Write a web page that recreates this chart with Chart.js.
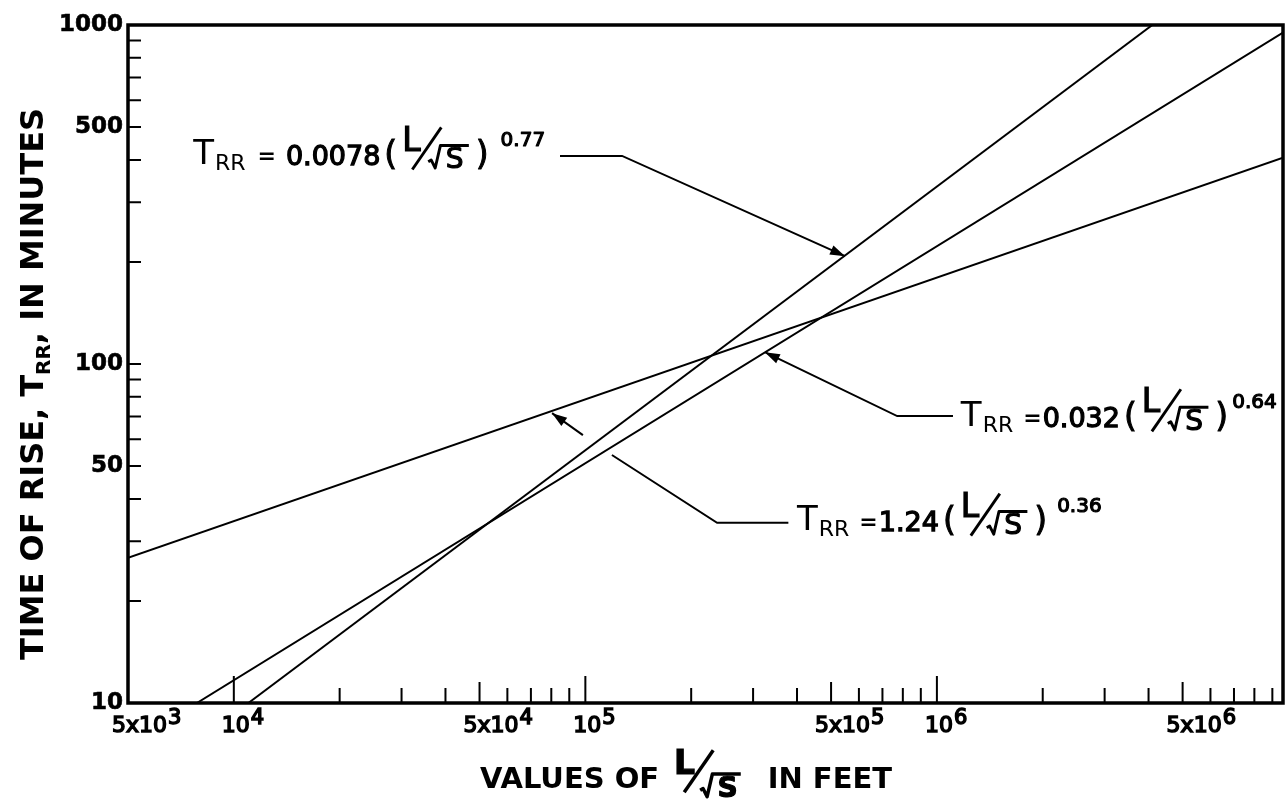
<!DOCTYPE html>
<html>
<head>
<meta charset="utf-8">
<script src="https://cdn.jsdelivr.net/npm/chart.js@4.4.1/dist/chart.umd.min.js"></script>
<style>
  html, body { margin: 0; padding: 0; background: #fff; }
  canvas { display: block; }
</style>
</head>
<body>
<canvas id="rise" width="1285" height="801"></canvas>
<script>
// rise time vs L/sqrt(S), three power laws on log-log paper
const coefficients = [0.0078, 0.032, 1.24];
const exponents = [0.77, 0.64, 0.36];

// straight on log-log, so each line only needs its two end points
const lineStartX = [1.1e4, 7.85e3, 5e3];
const lineStartY = [10, 10, 26.8];
const lineEndX = [4.1e6, 9.65e6, 9.65e6];
const lineEndY = [1000, 950, 406];

const yTickLabels = [10, 50, 100, 500, 1000];
const xLabelMantissa = [5, 1, 5, 1, 5, 1, 5];
const xLabelPower = [3, 4, 4, 5, 5, 6, 6];

// leader lines in data units, first point is the arrow tip
const leaderPaths = [
  [[[5.48e5, 208], [1.272e5, 411], [8.47e4, 411]]],
  [[[3.24e5, 108.4], [7.71e5, 70.2], [1.111e6, 70.2]]],
  // this one is broken where it crosses the two steep lines
  [[[8.04e4, 71.6], [9.84e4, 61.7]], [[1.19e5, 53.9], [2.37e5, 34.0], [3.78e5, 34.0]]]
];
// where each equation starts (x) and sits (baseline y)
const labelX = [7.66e3, 1.17e6, 4.0e5];
const labelY = [386, 65.2, 32.1];
// spacing: before '=', before the coefficient, before the power
const eqGaps = [[12, 10, 12], [10, 1, 4], [10, 1, 10]];

const FONT = '"DejaVu Sans", sans-serif';
const f = (size, bold) => (bold ? 'bold ' : '') + size + 'px ' + FONT;

function ink(ctx, t, x, y, w) {
  ctx.fillText(t, x, y);
  if (w) {
    ctx.lineWidth = w;
    ctx.strokeText(t, x, y);
  }
}

// L over root S, drawn by hand
function drawFrac(ctx, x, y, s, bold, drop, dry) {
  const w = 2.5 * s;
  if (dry) return w;
  const d = drop * s;
  ctx.font = f(Math.round(1.15 * s), bold);
  ink(ctx, 'L', x + 0.1 * s, y - 0.5 * s, 1.2);
  ctx.lineWidth = bold ? 0.12 * s : 0.1 * s;
  ctx.lineJoin = 'round';
  ctx.beginPath();
  ctx.moveTo(x + 0.45 * s, y + 0.15 * s);
  ctx.lineTo(x + 1.45 * s, y - 1.3 * s);
  ctx.stroke();
  ctx.beginPath();
  ctx.moveTo(x + 1.0 * s, y - 0.22 * s + d);
  ctx.lineTo(x + 1.1 * s, y - 0.28 * s + d);
  ctx.lineTo(x + 1.24 * s, y + d);
  ctx.lineTo(x + 1.42 * s, y - 0.78 * s + d);
  ctx.lineTo(x + 2.4 * s, y - 0.78 * s + d);
  ctx.stroke();
  ctx.font = f(Math.round(0.95 * s), bold);
  ink(ctx, 'S', x + 1.6 * s, y + d, 1.2);
  return w;
}

function drawRuns(ctx, x, y, runs, dry) {
  let cx = x;
  for (const r of runs) {
    cx += r.gap || 0;
    if (r.frac) {
      cx += drawFrac(ctx, cx, y, r.frac, r.bold, r.drop || 0, dry);
      continue;
    }
    ctx.font = r.font;
    if (!dry) ink(ctx, r.t, cx, y + (r.dy || 0), r.stroke || 0);
    cx += ctx.measureText(r.t).width;
  }
  return cx - x;
}

// squeeze a run of text sideways so it spans a given width
function fitRuns(ctx, x, y, runs, width) {
  const natural = drawRuns(ctx, 0, 0, runs, true);
  ctx.save();
  ctx.translate(x, y);
  ctx.scale(width / natural, 1);
  drawRuns(ctx, 0, 0, runs, false);
  ctx.restore();
}

function equationRuns(i) {
  return [
    { t: 'T', font: f(34), dy: -1 },
    { t: 'RR', font: f(22), dy: 5, gap: 1 },
    { t: '=', font: f(22, true), gap: eqGaps[i][0], dy: -2 },
    { t: String(coefficients[i]), font: f(27), gap: eqGaps[i][1], stroke: 1.3 },
    { t: '(', font: f(33), gap: 4, stroke: 1 },
    { frac: 29, gap: 2, drop: 0.1 },
    { t: ')', font: f(33), gap: 4, stroke: 1 },
    { t: String(exponents[i]), font: f(20), dy: -19, gap: eqGaps[i][2], stroke: 1.2 }
  ];
}

const paperAxes = {
  id: 'paperAxes',
  afterDraw(chart) {
    const ctx = chart.ctx;
    const xs = chart.scales.x, ys = chart.scales.y;
    const a = chart.chartArea;
    ctx.save();
    ctx.fillStyle = '#000';
    ctx.strokeStyle = '#000';

    // frame
    ctx.lineWidth = 3.5;
    ctx.strokeRect(a.left, a.top, a.right - a.left, a.bottom - a.top);

    // x ticks stand up from the bottom edge
    ctx.lineWidth = 2;
    ctx.beginPath();
    for (let p = 4; p <= 6; p++) {
      for (let k = 1; k <= 9; k++) {
        const v = k * Math.pow(10, p);
        if (v >= xs.max) continue;
        const len = k === 1 ? 27 : k === 5 ? 21 : 15;
        const px = xs.getPixelForValue(v);
        ctx.moveTo(px, a.bottom);
        ctx.lineTo(px, a.bottom - len);
      }
    }
    // y ticks point in from the left edge
    for (let p = 1; p <= 2; p++) {
      for (let k = 1; k <= 9; k++) {
        const v = k * Math.pow(10, p);
        if (v <= ys.min || v >= ys.max) continue;
        const py = ys.getPixelForValue(v);
        ctx.moveTo(a.left, py);
        ctx.lineTo(a.left + 13, py);
      }
    }
    ctx.stroke();

    // y tick labels
    ctx.textAlign = 'right';
    ctx.textBaseline = 'middle';
    ctx.font = f(23, true);
    yTickLabels.forEach(v => {
      ink(ctx, String(v), a.left - 5, ys.getPixelForValue(v), 0.6);
    });

    // x tick labels with raised powers
    ctx.textAlign = 'left';
    ctx.textBaseline = 'alphabetic';
    xLabelMantissa.forEach((m, i) => {
      const v = m * Math.pow(10, xLabelPower[i]);
      const px = xs.getPixelForValue(v);
      const base = m === 1 ? '10' : m + 'x10';
      const x0 = px - (m === 1 ? 12 : 16);
      ctx.font = f(22);
      ink(ctx, base, x0, a.bottom + 29, 1.5);
      const w = ctx.measureText(base).width;
      ctx.font = f(21);
      ink(ctx, String(xLabelPower[i]), x0 + w + 1, a.bottom + 21, 1.5);
    });

    // equations and their leaders
    coefficients.forEach((c, i) => {
      const lx = xs.getPixelForValue(labelX[i]);
      const ly = ys.getPixelForValue(labelY[i]);
      drawRuns(ctx, lx, ly, equationRuns(i), false);

      ctx.lineWidth = 2;
      ctx.lineJoin = 'miter';
      leaderPaths[i].forEach(path => {
        ctx.beginPath();
        path.forEach(([vx, vy], j) => {
          const px = xs.getPixelForValue(vx), py = ys.getPixelForValue(vy);
          if (j === 0) ctx.moveTo(px, py); else ctx.lineTo(px, py);
        });
        ctx.stroke();
      });
      // arrow head at the tip
      const p0 = leaderPaths[i][0][0], p1 = leaderPaths[i][0][1];
      const tx = xs.getPixelForValue(p0[0]), ty = ys.getPixelForValue(p0[1]);
      const bx = xs.getPixelForValue(p1[0]), by = ys.getPixelForValue(p1[1]);
      const ang = Math.atan2(ty - by, tx - bx);
      ctx.beginPath();
      ctx.moveTo(tx, ty);
      ctx.lineTo(tx - 15 * Math.cos(ang) + 5 * Math.sin(ang), ty - 15 * Math.sin(ang) - 5 * Math.cos(ang));
      ctx.lineTo(tx - 15 * Math.cos(ang) - 5 * Math.sin(ang), ty - 15 * Math.sin(ang) + 5 * Math.cos(ang));
      ctx.closePath();
      ctx.fill();
    });

    // axis titles
    ctx.save();
    ctx.translate(43, 384);
    ctx.rotate(-Math.PI / 2);
    fitRuns(ctx, -276, 0, [
      { t: 'TIME OF RISE, T', font: f(32, true) },
      { t: 'RR', font: f(20, true), dy: 7 },
      { t: ', IN MINUTES', font: f(32, true) }
    ], 552);
    ctx.restore();

    drawRuns(ctx, 480, 788, [
      { t: 'VALUES OF', font: f(29, true) },
      { frac: 29, bold: true, drop: 0.3, gap: 12 },
      { t: 'IN FEET', font: f(29, true), gap: 24 }
    ], false);

    ctx.restore();
  }
};

const datasets = coefficients.map((c, i) => ({
  label: 'T = ' + c + ' (L/\u221aS)^' + exponents[i],
  data: [
    { x: lineStartX[i], y: lineStartY[i] },
    { x: lineEndX[i], y: lineEndY[i] }
  ],
  borderColor: '#000',
  borderWidth: 2,
  pointRadius: 0,
  tension: 0,
  fill: false
}));

new Chart(document.getElementById('rise'), {
  type: 'line',
  data: { datasets },
  options: {
    responsive: false,
    animation: false,
    devicePixelRatio: 1,
    layout: { padding: { top: 25, right: 2, left: 0, bottom: 0 } },
    plugins: { legend: { display: false }, tooltip: { enabled: false } },
    scales: {
      x: {
        type: 'logarithmic',
        min: 5000,
        max: 9.65e6,
        grid: { display: false },
        border: { display: false },
        ticks: { display: false },
        afterFit: s => { s.height = 98; }
      },
      y: {
        type: 'logarithmic',
        min: 10,
        max: 1000,
        grid: { display: false },
        border: { display: false },
        ticks: { display: false },
        afterFit: s => { s.width = 128; }
      }
    }
  },
  plugins: [paperAxes]
});
</script>
</body>
</html>
